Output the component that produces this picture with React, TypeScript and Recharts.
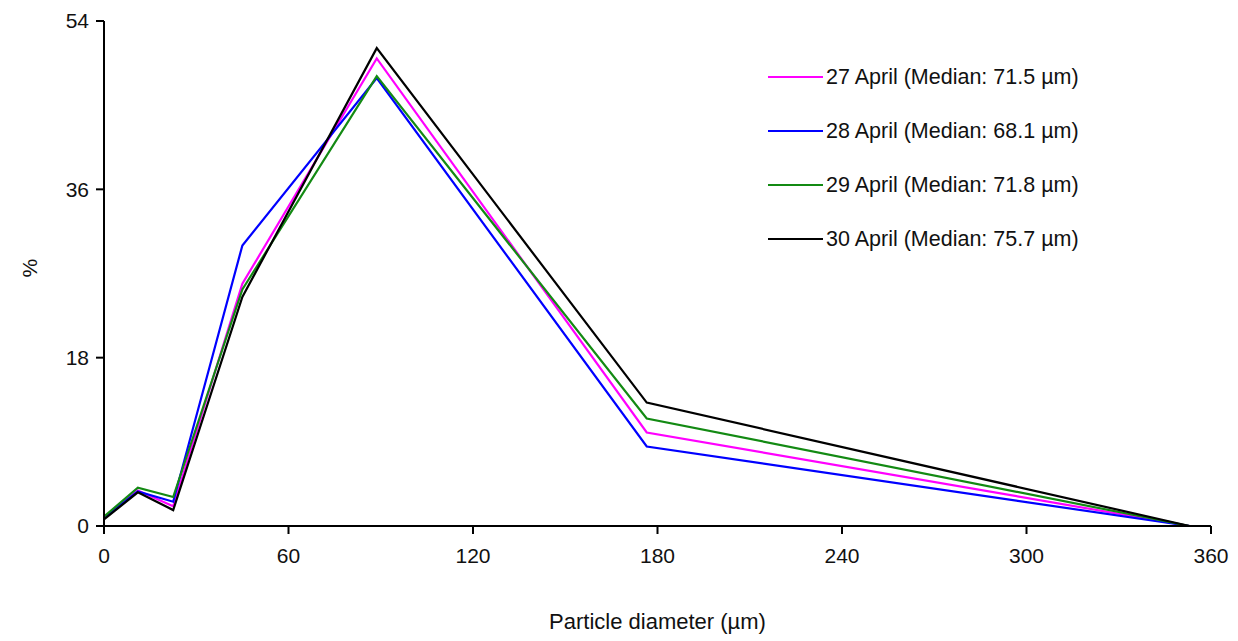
import { LineChart, Line, XAxis, YAxis, Legend } from "recharts";

const diameters = [0, 11, 22.5, 45, 88.7, 176.5, 353];
const april27 = [0.9, 3.8, 2.1, 25.9, 50.0, 10.0, 0];
const april28 = [0.9, 3.7, 2.6, 30.0, 47.9, 8.5, 0];
const april29 = [1.0, 4.1, 3.1, 25.3, 48.1, 11.5, 0];
const april30 = [0.7, 3.6, 1.7, 24.5, 51.1, 13.2, 0];

const xTicks = [0, 60, 120, 180, 240, 300, 360];
const yTicks = [0, 18, 36, 54];

const series = [
  { key: "d27", name: "27 April (Median: 71.5 µm)", color: "#ff00ff", values: april27 },
  { key: "d28", name: "28 April (Median: 68.1 µm)", color: "#0000ff", values: april28 },
  { key: "d29", name: "29 April (Median: 71.8 µm)", color: "#138a13", values: april29 },
  { key: "d30", name: "30 April (Median: 75.7 µm)", color: "#000000", values: april30 },
];

const data = diameters.map((d, i) => {
  const row: Record<string, number> = { d };
  series.forEach((s) => {
    row[s.key] = s.values[i];
  });
  return row;
});

const font = "'Liberation Sans', Arial, sans-serif";

function LegendBox() {
  return (
    <div style={{ fontFamily: font, fontSize: 21.5, color: "#111" }}>
      {series.map((s) => (
        <div key={s.key} style={{ display: "flex", alignItems: "center", height: 54 }}>
          <span style={{ display: "inline-block", width: 55, height: 2, background: s.color, marginRight: 3 }} />
          <span>{s.name}</span>
        </div>
      ))}
    </div>
  );
}

export default function App() {
  const tick = { fill: "#111", fontSize: 21, fontFamily: font };
  return (
    <div style={{ position: "absolute", left: 0, top: 0, background: "#fff" }}>
      <LineChart
        width={1238}
        height={641}
        data={data}
        margin={{ top: 21, right: 27, bottom: 15, left: 0 }}
      >
        <XAxis
          dataKey="d"
          type="number"
          domain={[0, 360]}
          ticks={xTicks}
          tick={tick}
          tickSize={8}
          tickMargin={14}
          height={100}
          axisLine={{ stroke: "#000", strokeWidth: 2 }}
          tickLine={{ stroke: "#000", strokeWidth: 2 }}
          label={{ value: "Particle diameter (µm)", position: "insideBottom", offset: -3, fill: "#111", fontSize: 22, fontFamily: font }}
        />
        <YAxis
          type="number"
          domain={[0, 54]}
          ticks={yTicks}
          tick={tick}
          tickSize={8}
          tickMargin={7}
          width={104}
          axisLine={{ stroke: "#000", strokeWidth: 2 }}
          tickLine={{ stroke: "#000", strokeWidth: 2 }}
          label={{ value: "%", angle: -90, position: "insideLeft", offset: 30, dy: 4, fill: "#111", fontSize: 21, fontFamily: font }}
        />
        <Legend
          layout="horizontal"
          verticalAlign="middle"
          align="center"
          content={() => <LegendBox />}
          wrapperStyle={{ left: 768, top: 50, width: 380 }}
        />
        {series.map((s) => (
          <Line
            key={s.key}
            dataKey={s.key}
            name={s.name}
            stroke={s.color}
            strokeWidth={2.2}
            dot={false}
            type="linear"
            isAnimationActive={false}
          />
        ))}
      </LineChart>
    </div>
  );
}
